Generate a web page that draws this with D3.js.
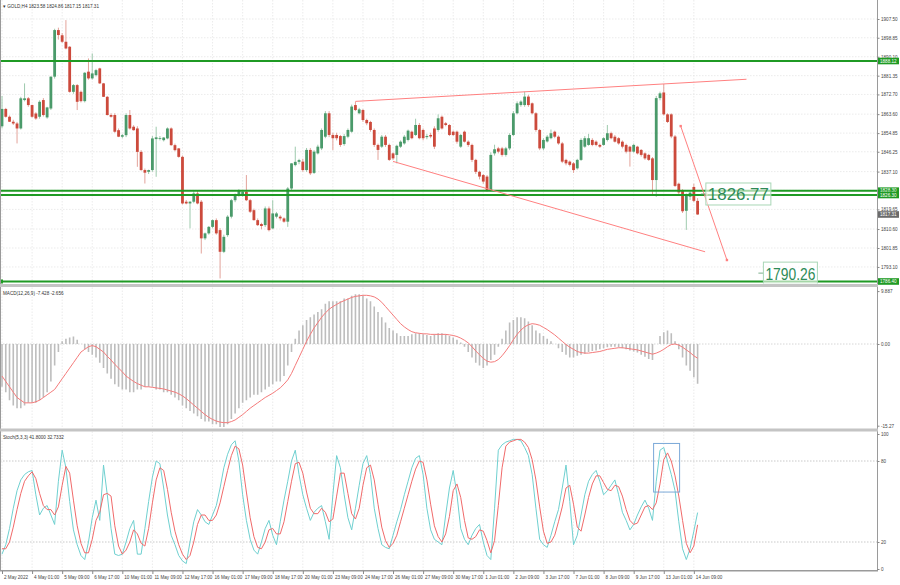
<!DOCTYPE html>
<html><head><meta charset="utf-8">
<script src="https://cdn.jsdelivr.net/npm/d3@7"></script>
<style>body{margin:0;background:#fff}svg{display:block;font-family:'Liberation Sans',Arial,sans-serif}</style>
</head><body><svg id="c" width="900" height="585"></svg>
<script>
// ---------- DATA ----------
const ohlc = [
[1858,1872,1857,1866],[1866,1866.5,1862,1862.4],[1862.4,1863,1860,1860.1],[1860.1,1861,1858.6,1859.3],[1859.3,1860,1850.1,1857],
[1857,1871.6,1856.5,1870.9],[1870.1,1877.8,1869.5,1870.9],[1870.9,1871.5,1867,1867.8],[1867.8,1868,1862,1862.4],[1863.9,1864.5,1861,1861.6],
[1862.4,1870,1861.5,1869.3],[1870.1,1871,1862.5,1863.2],[1862.1,1867,1861.5,1866.7],[1866.2,1881,1865.5,1880.9],[1880.9,1903,1880,1902.4],
[1902.4,1903.5,1898,1900.1],[1900,1901,1896.5,1897],[1897,1907,1893.5,1893.9],[1894.7,1895,1873.5,1873.9],[1873.9,1877.5,1873,1877],
[1877,1877.5,1865.5,1869.3],[1873.9,1874.5,1869,1869.6],[1869.6,1883,1869,1882.7],[1883.2,1889.3,1879.5,1880.1],[1880.1,1891.6,1879.5,1882.4],
[1881.6,1884.5,1881,1883.9],[1884.7,1885,1877.5,1877.8],[1877.8,1878,1871.5,1871.6],[1871.6,1872,1863,1863.2],[1863.2,1864,1862,1862.4],
[1863.2,1864,1855,1855.5],[1856.2,1857,1853,1853.2],[1853.2,1854.5,1852.5,1853.9],[1853.9,1864,1853,1863.2],[1863.2,1865.5,1856.5,1857],
[1857.8,1858.5,1856,1856.2],[1857,1858,1839.3,1846.2],[1846.2,1847,1837.5,1837.8],[1837.8,1838.5,1831.6,1836.6],[1837,1838,1836,1837.8],
[1837.8,1853.5,1837,1852.4],[1852.1,1857.8,1834.7,1852.9],[1852.4,1853.5,1851.5,1852.6],[1851.6,1853,1851,1852.8],[1852.4,1857.5,1852,1857],
[1857,1857.5,1849,1849.3],[1849.3,1850,1846.5,1847],[1847.8,1848,1843.5,1843.9],[1843.9,1844.5,1822,1822.4],[1823.2,1824,1822,1822.4],
[1822.4,1823.5,1810.9,1823.2],[1823.2,1828,1822.5,1827],[1827,1828.5,1822,1822.4],[1823.2,1824,1799.3,1806.3],[1806.3,1809,1805.5,1808.6],
[1808.6,1812,1808,1811.6],[1811.6,1815,1811,1814.7],[1814.7,1815.5,1808,1808.6],[1810.1,1811,1787.8,1800.1],[1800.1,1808,1799.5,1807],
[1807.8,1817,1807,1816.3],[1816.3,1824.5,1815.5,1823.9],[1823.9,1827,1823,1826.3],[1826.3,1829,1825.5,1828.6],[1826.3,1828.6,1825.5,1827.8],
[1827.8,1835.5,1823.5,1823.9],[1823.9,1824.5,1818,1818.6],[1819.3,1820,1814.5,1814.7],[1814.7,1815.5,1812,1812.4],[1812.9,1813.5,1810.5,1812],
[1812.4,1821,1811.5,1820.1],[1820.1,1821,1809.5,1810.1],[1810.9,1823.9,1810.5,1817.8],[1816.3,1818.5,1815.5,1817.8],[1816.3,1817,1814.5,1815.5],
[1815.5,1816,1813.5,1814],[1814,1830,1811.6,1829.3],[1829.3,1841,1828.5,1840.9],[1840.1,1848.6,1839.5,1841.6],[1841.6,1843,1840.5,1842.4],
[1841.7,1843,1837,1837.8],[1837.8,1848,1837,1847.1],[1847.1,1848,1835.5,1836.3],[1836.5,1847,1836,1846.3],[1845.5,1849.5,1845,1848.6],
[1847.8,1857,1847,1856.3],[1853.2,1865,1852.5,1864],[1864,1865,1853,1854],[1854,1855,1847,1852.5],[1854,1855,1851.5,1852.5],
[1853.5,1854,1848.5,1849.4],[1849.8,1854.5,1849,1853.5],[1853.2,1857,1852.5,1856.3],[1855.5,1868,1855,1867.1],[1867.8,1869.4,1865,1865.5],
[1864,1866.5,1863.5,1865.8],[1865.5,1866,1860,1860.9],[1860.9,1861.5,1858.5,1859.4],[1860,1860.5,1855.5,1856.3],[1856.3,1857,1848.5,1849.4],
[1849.4,1850,1842.5,1847.1],[1848.6,1854,1848,1853.2],[1853.2,1854,1848.5,1849.4],[1849.4,1850,1842,1842.5],[1845.5,1846,1842.5,1843.2],
[1844.8,1849.5,1840.9,1849],[1848.6,1851.5,1848,1850.9],[1850.1,1854,1849.5,1853.2],[1851.7,1856.5,1851,1856],[1855.5,1856,1852,1852.5],
[1854,1861.5,1853.5,1858.6],[1858.6,1859.5,1852,1852.5],[1856.3,1857,1851.5,1852.5],[1853,1854.5,1852,1853.5],[1854,1855,1852.5,1853.3],
[1857,1858,1847.5,1848.6],[1856.3,1863.5,1855.5,1861.7],[1862.4,1863,1856.5,1857],[1859.4,1860,1858,1858.6],[1858.6,1859,1853.5,1854],
[1855.5,1856,1853.5,1854],[1855.5,1856,1850,1850.9],[1848.6,1854.5,1848,1854],[1855.5,1856,1850.5,1850.9],[1850.9,1851.5,1848.5,1849.4],
[1849.4,1850,1841.5,1842.5],[1842.5,1843,1836,1837],[1837,1837.5,1833.5,1834.8],[1835.5,1836,1831.5,1832.5],[1834.8,1835.5,1827.8,1828.6],
[1828.6,1846,1828,1844.8],[1845.5,1849.5,1844.5,1847.4],[1847.8,1848.5,1845.5,1846.3],[1847.8,1848.5,1844,1844.8],[1844.8,1848.5,1844,1847.8],
[1847.8,1854.8,1847,1854],[1854,1865,1853.5,1864],[1864,1869.5,1863.5,1868.6],[1867.8,1870,1867,1869.4],[1867.8,1874,1867,1871.7],
[1871.7,1872.5,1867,1867.8],[1868.6,1869,1863.5,1864],[1864,1864.5,1855.5,1856.3],[1856.3,1856.8,1847,1847.8],[1847.8,1852.5,1847,1851.7],
[1851,1854,1850.5,1853.2],[1852.5,1856.5,1852,1854.8],[1855.5,1856,1852.5,1853.2],[1853.2,1853.8,1849.5,1850.1],[1850.1,1850.8,1841,1841.7],
[1842.5,1843,1840,1840.9],[1841.7,1842.2,1839.5,1840.2],[1840.9,1841.5,1836.5,1837.8],[1838.6,1843,1838,1842.5],[1842.5,1852.5,1842,1851.7],
[1848.6,1853.5,1848,1852.5],[1849.4,1854.5,1849,1852.5],[1851.7,1852.5,1848.8,1849.4],[1850.9,1851.5,1848.8,1849.4],[1849.4,1850,1848,1848.6],
[1849.4,1853,1849,1852.5],[1851.7,1858.6,1851,1854.8],[1854.8,1855.5,1852,1852.5],[1853.2,1854,1850.5,1850.9],[1852.5,1853,1849.5,1850.1],
[1850.9,1851.5,1847.8,1848.6],[1849.4,1850,1845.5,1846.3],[1848.6,1849,1839.4,1846.3],[1846.3,1850,1845.8,1849.4],[1848.6,1849,1845,1845.5],
[1847.1,1847.5,1844,1844.8],[1845.5,1846,1842.5,1843.2],[1844.8,1845.3,1842,1842.5],[1843.2,1843.8,1826,1833.2],[1833.2,1872,1825.4,1871],
[1871,1874,1870,1873.2],[1873.6,1877.5,1863,1863.5],[1863.5,1864,1859.5,1860],[1863.5,1864,1852.5,1853.3],[1853.3,1854,1830,1830.5],
[1831.5,1832,1826.5,1827.5],[1828.4,1829,1818,1818.8],[1819,1827,1810.2,1826.3],[1825.5,1828,1824,1827.4],[1830,1831.5,1823,1823.6],
[1823.58,1824.86,1817.15,1817.31]
];
const macdHist = [
-8,-9,-10.5,-11.5,-12,-12,-11.5,-11,-11,-11,-10.5,-10,-9,-7,
-4,-1.5,0.5,1,1.2,1.4,0.8,0,-1,-1.5,-2,-2.5,-3.5,-4.5,
-5.5,-6.5,-7.5,-8,-8.5,-8.5,-9,-9,-8.5,-8.5,-8,-8,-8,-8.5,
-8.5,-9,-9,-9.5,-10,-10.5,-11.5,-12,-12.5,-13,-13.5,-14,-14.5,-14.5,
-15,-15,-15.5,-15.5,-15,-14,-13,-12,-11,-10.5,-10,-9.5,-9.5,-9,
-8.5,-8,-7.5,-7,-7,-6,-4,-1.5,1,2.5,
3.5,4.5,5,5.5,6,6.5,7.5,8,8,8,8,8.5,8.5,9,
9.3,9.3,9,8.5,8,7,6,5,4,3,2.5,2,1.5,1.5,
1.5,1.8,2,2,1.8,1.7,1.5,1.8,2,2,1.8,1.5,1.2,0.8,
0.3,-0.5,-1.5,-2.5,-3.5,-4,-4.5,-4,-3,-2,-0.5,1,2.5,4,
4.5,5,5,4.8,4.2,3.5,2.5,2,1.5,1,0.5,0,-0.8,-1.5,
-2,-2.5,-2.5,-2.2,-2,-1.8,-1.5,-1.3,-1.2,-1,-0.8,-0.6,-0.5,-0.5,
-0.6,-0.8,-1,-1.2,-1.4,-1.6,-2,-2.4,-2.8,-3,0,1.5,2.2,2.5,
2,0.5,-1,-2.5,-4,-5,-6.2,-7.428];
const macdSignal = [
-6,-7,-8,-9,-10,-10.5,-11,-11,-11,-10.8,-10.5,-10,-9.5,-9,
-8.5,-7.5,-6.5,-5.5,-4.5,-3.5,-2.5,-1.5,-1,-0.5,-0.3,-0.5,-1,-1.5,
-2.3,-3,-3.8,-4.5,-5.2,-6,-6.5,-7,-7.4,-7.7,-8,-8,-8.1,-8.2,
-8.3,-8.4,-8.6,-8.8,-9,-9.3,-9.7,-10.2,-10.8,-11.4,-12,-12.6,-13.2,-13.7,
-14.1,-14.4,-14.6,-14.7,-14.7,-14.5,-14.2,-13.7,-13.2,-12.6,-12,-11.5,-11,-10.5,
-10,-9.6,-9.2,-8.7,-8.2,-7.5,-6.7,-5.5,-4,-2.5,
-1,0.5,1.8,3,4,5,5.8,6.5,7,7.4,7.8,8.1,8.4,8.7,
8.9,9,9.1,9.1,9,8.8,8.4,7.8,7,6.2,5.4,4.6,3.8,3.2,
2.7,2.3,2.1,2,1.9,1.9,1.8,1.8,1.8,1.8,1.8,1.7,1.6,1.4,
1.1,0.7,0.2,-0.5,-1.3,-2,-2.7,-3.2,-3.4,-3.3,-2.9,-2.2,-1.3,-0.3,
0.8,1.8,2.6,3.2,3.6,3.8,3.7,3.5,3.1,2.7,2.2,1.7,1.1,0.5,
-0.1,-0.6,-1,-1.4,-1.6,-1.7,-1.7,-1.6,-1.5,-1.4,-1.2,-1,-0.9,-0.8,
-0.7,-0.7,-0.8,-0.9,-1,-1.1,-1.3,-1.5,-1.7,-1.9,-1.7,-1.4,-1,-0.5,
-0.1,0,-0.2,-0.6,-1.1,-1.6,-2.2,-2.656];
const stochMain = [
11,18,30,45,58,66,70,72,73,55,40,45,47,40,33,65,88,75,50,29,18,10,7,20,38,51,36,77,55,30,11,10,11,20,30,36,
11,11,30,50,68,80,78,60,40,25,18,10,6,4,20,35,44,40,35,33,40,47,
60,75,85,92,95,80,55,36,22,14,11,20,30,36,25,18,35,51,65,80,
88,70,55,45,36,42,45,47,35,22,55,84,75,55,38,29,45,62,78,84,70,45,
30,18,16,15,25,35,44,55,65,75,82,84,70,45,29,22,20,18,40,60,
73,55,30,22,18,25,30,33,20,10,7,45,88,92,94,95,96,96,95,90,
84,70,45,22,18,16,25,35,44,60,77,50,18,25,40,55,65,70,73,65,55,58,62,66,55,42,36,29,33,40,46,51,45,36,65,88,90,80,70,58,35,15,7,15,28,41.8];
const stochSignal = [
15,15,20,31,44,56,65,69,72,67,56,47,44,44,40,46,62,76,71,51,
32,19,12,12,22,36,42,55,56,54,32,17,11,14,20,29,26,19,17,30,
49,66,75,73,59,42,28,18,11,7,10,20,33,40,40,36,36,40,49,61,
73,84,91,89,77,57,38,24,16,15,20,29,30,26,26,35,50,65,78,79,
71,57,45,41,41,45,42,35,37,54,71,71,56,41,37,45,62,75,77,66,
48,31,21,16,19,25,35,45,55,65,74,80,79,66,48,32,24,20,26,39,
58,63,53,36,23,22,24,29,28,21,12,21,47,75,91,94,95,96,96,94,
90,81,66,46,28,19,20,25,35,46,60,62,48,31,28,40,53,63,69,69,
64,59,58,62,61,54,44,36,33,34,40,46,47,44,49,63,81,86,80,69,
54,36,19,12,17,32.73];
const timeLabels = ["2 May 2022","4 May 01:00","5 May 09:00","6 May 17:00","10 May 01:00","11 May 09:00","12 May 17:00","16 May 01:00","17 May 09:00","18 May 17:00","20 May 01:00","23 May 09:00","24 May 17:00","26 May 01:00","27 May 09:00","30 May 17:00","1 Jun 01:00","2 Jun 09:00","3 Jun 17:00","7 Jun 01:00","8 Jun 09:00","9 Jun 17:00","13 Jun 01:00","14 Jun 09:00"];
const timeLabelBars = [0,8,16,24,32,40,48,56,64,72,80,88,96,104,112,120,128,136,144,152,160,168,176,184];
const priceTicks = [1907.50,1898.85,1890.10,1881.35,1872.70,1863.60,1854.85,1846.25,1837.10,1828.45,1819.65,1810.60,1801.85,1793.10];
const macdTicks = [9.887,0,-15.27];
const macdTickText = ["9.887","0.00","-15.27"];
const stochTicks = [100,80,20,0];
const levels = [1888.12,1828.3,1826.3,1786.40];
const levelText = ["1888.12","1828.30","1826.30","1786.40"];
const lastPrice = 1817.31;
// trendlines: [bar1, price1, bar2, price2]
const trendLines = [
  [94, 1869.5, 198, 1879.7],
  [104, 1841.8, 187, 1800.1],
  [180.5, 1858.1, 192.8, 1796.3]
];
const bigLabels = [["1826.77", 1826.77, 187.2],["1790.26", 1790.26, 202.5]];

// ---------- SCALES ----------
const svg = d3.select('#c');
const x = d3.scaleLinear().domain([0,185]).range([2,697.6]);
const yP = d3.scaleLinear().domain([1907.5,1801.85]).range([19,248]);
const yM = d3.scaleLinear().domain([0,-15.27]).range([344,425.7]);
const yS = d3.scaleLinear().domain([100,0]).range([434,569]);
const P = {main:[0,283.5], macd:[287.5,428], stoch:[431.5,570]};
const FS = 4.6, TXT = '#444';

// clip paths
const defs = svg.append('defs');
Object.entries(P).forEach(([k,[a,b]])=>{
  defs.append('clipPath').attr('id','cl-'+k).append('rect').attr('x',0).attr('y',a).attr('width',877).attr('height',b-a);
});

// ---------- GRID ----------
const grid = svg.append('g').attr('stroke','#e6e6e6').attr('stroke-dasharray','1.5,1.5').attr('stroke-width',0.8);
Object.values(P).forEach(([a,b])=>{
  timeLabelBars.forEach(i=>grid.append('line').attr('x1',x(i)).attr('x2',x(i)).attr('y1',a).attr('y2',b));
});
priceTicks.forEach(p=>grid.append('line').attr('x1',0).attr('x2',877).attr('y1',yP(p)).attr('y2',yP(p)));
stochTicks.filter(v=>v==80||v==20).forEach(v=>svg.append('line').attr('x1',0).attr('x2',877).attr('y1',yS(v)).attr('y2',yS(v)).attr('stroke','#bbb').attr('stroke-dasharray','1.5,1.5').attr('stroke-width',0.8));
svg.append('line').attr('x1',0).attr('x2',877).attr('y1',yM(0)).attr('y2',yM(0)).attr('stroke','#ccc').attr('stroke-dasharray','1.5,1.5').attr('stroke-width',0.8);

// ---------- CANDLES ----------
const gC = svg.append('g').attr('clip-path','url(#cl-main)');
const bull='#4a9a6a', bear='#cc4a3c', bullW='#93c4a4', bearW='#e0988f';
gC.selectAll('line.w').data(ohlc).join('line')
  .attr('x1',(d,i)=>x(i)).attr('x2',(d,i)=>x(i))
  .attr('y1',d=>yP(d[1])).attr('y2',d=>yP(d[2]))
  .attr('stroke',d=>d[3]>=d[0]?bullW:bearW).attr('stroke-width',0.9);
gC.selectAll('rect.b').data(ohlc).join('rect')
  .attr('x',(d,i)=>x(i)-1.4).attr('width',2.8)
  .attr('y',d=>yP(Math.max(d[0],d[3])))
  .attr('height',d=>Math.max(0.8,Math.abs(yP(d[0])-yP(d[3]))))
  .attr('fill',d=>d[3]>=d[0]?bull:bear);

// horizontal levels
levels.forEach(p=>gC.append('line').attr('x1',0).attr('x2',877).attr('y1',yP(p)).attr('y2',yP(p)).attr('stroke','#1f9a24').attr('stroke-width',2));
svg.append('rect').attr('x',0).attr('y',yP(1786.40)-2).attr('width',3).attr('height',4).attr('fill','#1f9a24');

// trendlines
trendLines.forEach(t=>gC.append('line').attr('x1',x(t[0])).attr('y1',yP(t[1])).attr('x2',x(t[2])).attr('y2',yP(t[3])).attr('stroke','#ff8080').attr('stroke-width',1));
const t3 = trendLines[2];
[[t3[0],t3[1]],[t3[2],t3[3]]].forEach(p=>gC.append('rect').attr('x',x(p[0])-1.2).attr('y',yP(p[1])-1.2).attr('width',2.4).attr('height',2.4).attr('fill','#ff8080'));
gC.append('rect').attr('x',x(187.4)-1).attr('y',yP(1826.5)-1).attr('width',2).attr('height',2).attr('fill','#f4a070');

// big labels
bigLabels.forEach(([t,p,b],k)=>{
  const yy=yP(p), xx=x(b), w = k==0?65:54;
  gC.append('line').attr('x1',xx-5).attr('x2',xx).attr('y1',yy).attr('y2',yy).attr('stroke','#5a9a70').attr('stroke-width',0.8);
  gC.append('rect').attr('x',xx).attr('y',yy-11).attr('width',w).attr('height',22).attr('fill','rgba(255,255,255,0.6)').attr('stroke','#a8d6b6').attr('stroke-width',1);
  gC.append('text').attr('x',xx+2).attr('y',yy+6.5).attr('font-size',17).attr('fill','#2e8b57').attr('textLength',w-4).attr('lengthAdjust','spacingAndGlyphs').text(t);
});

// ---------- MACD ----------
const gM = svg.append('g').attr('clip-path','url(#cl-macd)');
gM.selectAll('line.h').data(macdHist).join('line')
  .attr('x1',(d,i)=>x(i)).attr('x2',(d,i)=>x(i)).attr('y1',yM(0)).attr('y2',d=>yM(d))
  .attr('stroke','#bdbdbd').attr('stroke-width',1.6);
gM.append('path').datum(macdSignal).attr('fill','none').attr('stroke','#f47a7a').attr('stroke-width',1)
  .attr('d',d3.line().x((d,i)=>x(i)).y(d=>yM(d)));

// ---------- STOCH ----------
const gS = svg.append('g').attr('clip-path','url(#cl-stoch)');
gS.append('path').datum(stochMain).attr('fill','none').attr('stroke','#6fd0d0').attr('stroke-width',1)
  .attr('d',d3.line().x((d,i)=>x(i)).y(d=>yS(d)));
gS.append('path').datum(stochSignal).attr('fill','none').attr('stroke','#f06a6a').attr('stroke-width',1)
  .attr('d',d3.line().x((d,i)=>x(i)).y(d=>yS(d)));
gS.append('rect').attr('x',x(173.3)).attr('y',yS(93)).attr('width',26).attr('height',yS(57)-yS(93)).attr('fill','none').attr('stroke','#7aa8d8').attr('stroke-width',1);

// ---------- FRAMES ----------
svg.append('line').attr('x1',877.5).attr('x2',877.5).attr('y1',0).attr('y2',571).attr('stroke','#9a9a9a').attr('stroke-width',1);
svg.append('line').attr('x1',0.5).attr('x2',0.5).attr('y1',0).attr('y2',571).attr('stroke','#9a9a9a').attr('stroke-width',1);
[[284,3],[428.5,3]].forEach(([y,h])=>svg.append('rect').attr('x',0).attr('y',y).attr('width',878).attr('height',h).attr('fill','#c4c4c4'));
svg.append('line').attr('x1',0).attr('x2',878).attr('y1',570.8).attr('y2',570.8).attr('stroke','#9a9a9a').attr('stroke-width',1.4);

// ---------- AXES ----------
function styleAxis(g){ g.select('.domain').remove(); g.selectAll('line').attr('stroke','#888'); g.selectAll('text').attr('fill',TXT).attr('font-size',FS); }
svg.append('g').attr('transform','translate(877.5,0)')
  .call(d3.axisRight(yP).tickValues(priceTicks).tickSize(2).tickPadding(1.5).tickFormat(d=>d.toFixed(2))).call(styleAxis);
svg.append('g').attr('transform','translate(877.5,0)')
  .call(d3.axisRight(yM).tickValues(macdTicks).tickSize(2).tickPadding(1.5).tickFormat((d,i)=>macdTickText[i])).call(styleAxis);
svg.append('g').attr('transform','translate(877.5,0)')
  .call(d3.axisRight(yS).tickValues(stochTicks).tickSize(2).tickPadding(1.5).tickFormat(d=>String(d))).call(styleAxis);
const xa = svg.append('g').attr('transform','translate(0,571)')
  .call(d3.axisBottom(x).tickValues(timeLabelBars).tickSize(3).tickPadding(2).tickFormat((d,i)=>timeLabels[i])).call(styleAxis);
xa.selectAll('text').attr('text-anchor','start').attr('dx',1.5);

// axis price boxes
function priceBox(p,t,fill){
  const yy=yP(p);
  svg.append('rect').attr('x',878).attr('y',yy-3.3).attr('width',21).attr('height',6.6).attr('fill',fill);
  svg.append('text').attr('x',880).attr('y',yy+1.6).attr('font-size',FS).attr('fill','#fff').text(t);
}
levels.forEach((p,i)=>priceBox(p,levelText[i],'#1f9a24'));
priceBox(lastPrice,'1817.31','#6b6b6b');

// ---------- HEADERS ----------
svg.append('text').attr('x',3).attr('y',8).attr('font-size',FS).attr('fill','#333').text('▾ GOLD,H4  1823.58 1824.86 1817.15 1817.31');
svg.append('text').attr('x',3).attr('y',295).attr('font-size',FS).attr('fill','#333').text('MACD(12,26,9) -7.428 -2.656');
svg.append('text').attr('x',3).attr('y',439).attr('font-size',FS).attr('fill','#333').text('Stoch(5,3,3) 41.8000 32.7332');
</script></body></html>
